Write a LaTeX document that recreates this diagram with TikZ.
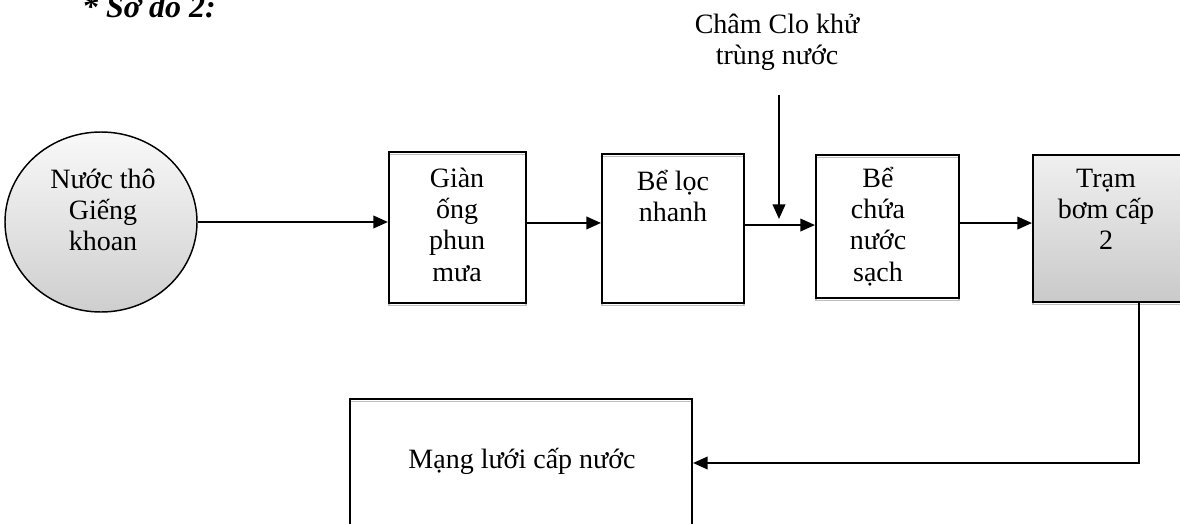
\documentclass[tikz,border=0pt]{standalone}
\usepackage{fontspec}
\setmainfont{Liberation Serif}
\usetikzlibrary{arrows.meta,fit,shapes.geometric}
% strut that fixes the height of the first text line
\newcommand\lnhead{\rule{0pt}{1.2em}}
\begin{document}
\begin{tikzpicture}[x=0.75pt, y=-0.75pt,
  txt/.style={font=\fontsize{21pt}{23.5pt}\selectfont, align=center, inner sep=0pt, anchor=north},
  stage/.style={draw, line width=1.6pt, inner sep=0pt,
    preaction={draw=black!25, line width=1.2pt, transform canvas={yshift=-2pt}}},
  flow/.style={line width=1.4pt, -{Triangle[length=11pt,width=9.5pt]}},
]
\useasboundingbox (0,0) rectangle (1180,524);

% heading
\node[font=\fontsize{24pt}{28pt}\selectfont\bfseries\itshape, inner sep=0pt, anchor=north]
  (title) at (149,-21.4) {\rule{0pt}{1.2em}* Sơ đồ 2:};

% source
\node[ellipse, draw, line width=1.1pt, inner sep=0pt,
  minimum width=144pt, minimum height=135pt,
  top color=gray!5, bottom color=gray!38] (well) at (101,222) {};
\node[txt] (wellT) at (103,154.4) {\lnhead Nước thô\\Giếng\\khoan};

% treatment stages
\node[stage, fit={(389,152) (526,303)}] (gian) {};
\node[txt] (gianT) at (457,153.4) {\lnhead Giàn\\ống\\phun\\mưa};

\node[stage, fit={(602,154) (744,303)}] (loc) {};
\node[txt] (locT) at (673,156.4) {\lnhead Bể lọc\\nhanh};

\node[stage, fit={(816,155) (959,298)}] (chua) {};
\node[txt] (chuaT) at (878,153.4) {\lnhead Bể\\chứa\\nước\\sạch};

\node[stage, fit={(1033,155) (1182,302)}, top color=gray!12, bottom color=gray!42] (tram) {};
\node[txt] (tramT) at (1106,153.4) {\lnhead Trạm\\bơm cấp\\2};

\node[stage, fit={(350,399) (692,527)}] (mang) {};
\node[txt] (mangT) at (522,434.4) {\lnhead Mạng lưới cấp nước};

% chlorination input
\node[txt] (clo) at (777,-0.6) {\lnhead Châm Clo khử\\trùng nước};
\coordinate (cloIn) at (779,95);
\coordinate (cloTip) at (779,219);

% connectors
\draw[flow] (well.east) -- (well.east -| gian.west);
\draw[flow] ([yshift=3.4pt]gian.east) -- ([yshift=3.4pt]gian.east -| loc.west);
\draw[flow] ([yshift=2.6pt]loc.east) -- ([yshift=2.6pt]loc.east -| chua.west);
\draw[flow] ([yshift=2.6pt]chua.east) -- ([yshift=2.6pt]chua.east -| tram.west);
\draw[flow] (cloIn) -- (cloTip);
\draw[flow] ([xshift=23.6pt]tram.south) |- (mang.east);
\end{tikzpicture}
\end{document}
